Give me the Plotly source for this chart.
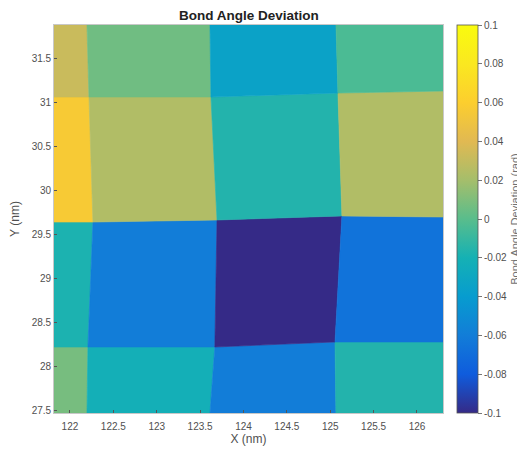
import plotly.graph_objects as go
from plotly.colors import sample_colorscale

# Vertex grid (rows j = bottom..top, columns i = left..right), in nm
x_vertices = [
    [121.816, 122.196, 123.614, 125.066, 126.300],
    [121.816, 122.207, 123.670, 125.055, 126.300],
    [121.816, 122.265, 123.695, 125.135, 126.300],
    [121.816, 122.219, 123.625, 125.089, 126.300],
    [121.816, 122.196, 123.614, 125.066, 126.300],
]
y_vertices = [
    [27.466, 27.466, 27.466, 27.466, 27.466],
    [28.216, 28.216, 28.216, 28.273, 28.273],
    [29.636, 29.636, 29.659, 29.705, 29.693],
    [31.057, 31.057, 31.057, 31.102, 31.125],
    [31.875, 31.875, 31.875, 31.875, 31.875],
]
# Cell values (rad), rows bottom..top, columns left..right
deviation = [
    [0.008, -0.022, -0.060, -0.016],
    [-0.018, -0.060, -0.100, -0.066],
    [0.056, 0.024, -0.016, 0.024],
    [0.032, 0.006, -0.034, -0.004],
]

x_ticks = [122, 122.5, 123, 123.5, 124, 124.5, 125, 125.5, 126]
y_ticks = [27.5, 28, 28.5, 29, 29.5, 30, 30.5, 31, 31.5]
cbar_ticks = [-0.1, -0.08, -0.06, -0.04, -0.02, 0, 0.02, 0.04, 0.06, 0.08, 0.1]
cbar_labels = ["-0.1", "-0.08", "-0.06", "-0.04", "-0.02", "0", "0.02", "0.04", "0.06", "0.08", "0.1"]
cmin, cmax = -0.1, 0.1

parula = [
    [0.0, "rgb(53,42,135)"], [0.1, "rgb(15,92,221)"], [0.2, "rgb(18,125,216)"],
    [0.3, "rgb(7,156,207)"], [0.4, "rgb(21,177,180)"], [0.5, "rgb(89,189,140)"],
    [0.6, "rgb(165,190,107)"], [0.7, "rgb(225,185,82)"], [0.8, "rgb(252,206,46)"],
    [0.9, "rgb(250,232,32)"], [1.0, "rgb(249,251,14)"],
]

fig = go.Figure()
for j in range(4):
    for i in range(4):
        v = deviation[j][i]
        col = sample_colorscale(parula, [(v - cmin) / (cmax - cmin)])[0]
        xs = [x_vertices[j][i], x_vertices[j][i + 1], x_vertices[j + 1][i + 1], x_vertices[j + 1][i], x_vertices[j][i]]
        ys = [y_vertices[j][i], y_vertices[j][i + 1], y_vertices[j + 1][i + 1], y_vertices[j + 1][i], y_vertices[j][i]]
        fig.add_trace(go.Scatter(x=xs, y=ys, mode="lines", fill="toself", fillcolor=col,
                                 line=dict(color=col, width=0.6), hoverinfo="skip", showlegend=False))

# colorbar carrier
fig.add_trace(go.Scatter(
    x=[x_vertices[0][0]], y=[y_vertices[0][0]], mode="markers",
    marker=dict(size=0.1, opacity=0, color=[0], colorscale=parula, cmin=cmin, cmax=cmax, showscale=True,
                colorbar=dict(
                    x=1.036, xanchor="left", xpad=0, y=0.5, yanchor="middle", ypad=0,
                    len=1.0, lenmode="fraction",
                    thickness=21, outlinewidth=0.8, outlinecolor="#555555",
                    tickvals=cbar_ticks, ticktext=cbar_labels, ticks="outside", ticklen=4,
                    tickcolor="#777777", tickfont=dict(size=10, color="#505050"),
                    title=dict(text="Bond Angle Deviation (rad)", side="right",
                               font=dict(size=11, color="#707070")),
                )),
    hoverinfo="skip", showlegend=False))

axis_common = dict(ticks="inside", ticklen=3, tickcolor="#555555", showgrid=False, zeroline=False,
                   showline=True, linecolor="#c8c8c8", linewidth=0.6, mirror=True,
                   tickfont=dict(size=10, color="#505050"))
fig.update_xaxes(range=[121.816, 126.300], tickvals=x_ticks, ticktext=[f"{t:g}" for t in x_ticks],
                 ticklabelstandoff=4,
                 title=dict(text="X (nm)", font=dict(size=12, color="#505050"), standoff=3), **axis_common)
fig.update_yaxes(range=[27.466, 31.875], tickvals=y_ticks, ticktext=[f"{t:g}" for t in y_ticks],
                 title=dict(text="Y (nm)", font=dict(size=12, color="#505050"), standoff=14), **axis_common)

# figure is placed with an 8px page margin, so size/margins compensate for it
fig.update_layout(
    width=517, height=444,
    margin=dict(l=46, r=82, t=17, b=39, autoexpand=False),
    paper_bgcolor="white", plot_bgcolor="white",
    font=dict(family="Liberation Sans, Arial, sans-serif"),
    title=dict(text="<b>Bond Angle Deviation</b>", x=241 / 517, xanchor="center",
               y=1 - 7 / 444, yanchor="middle", font=dict(size=13.5, color="#222222")),
)

fig.write_html("out.html")
